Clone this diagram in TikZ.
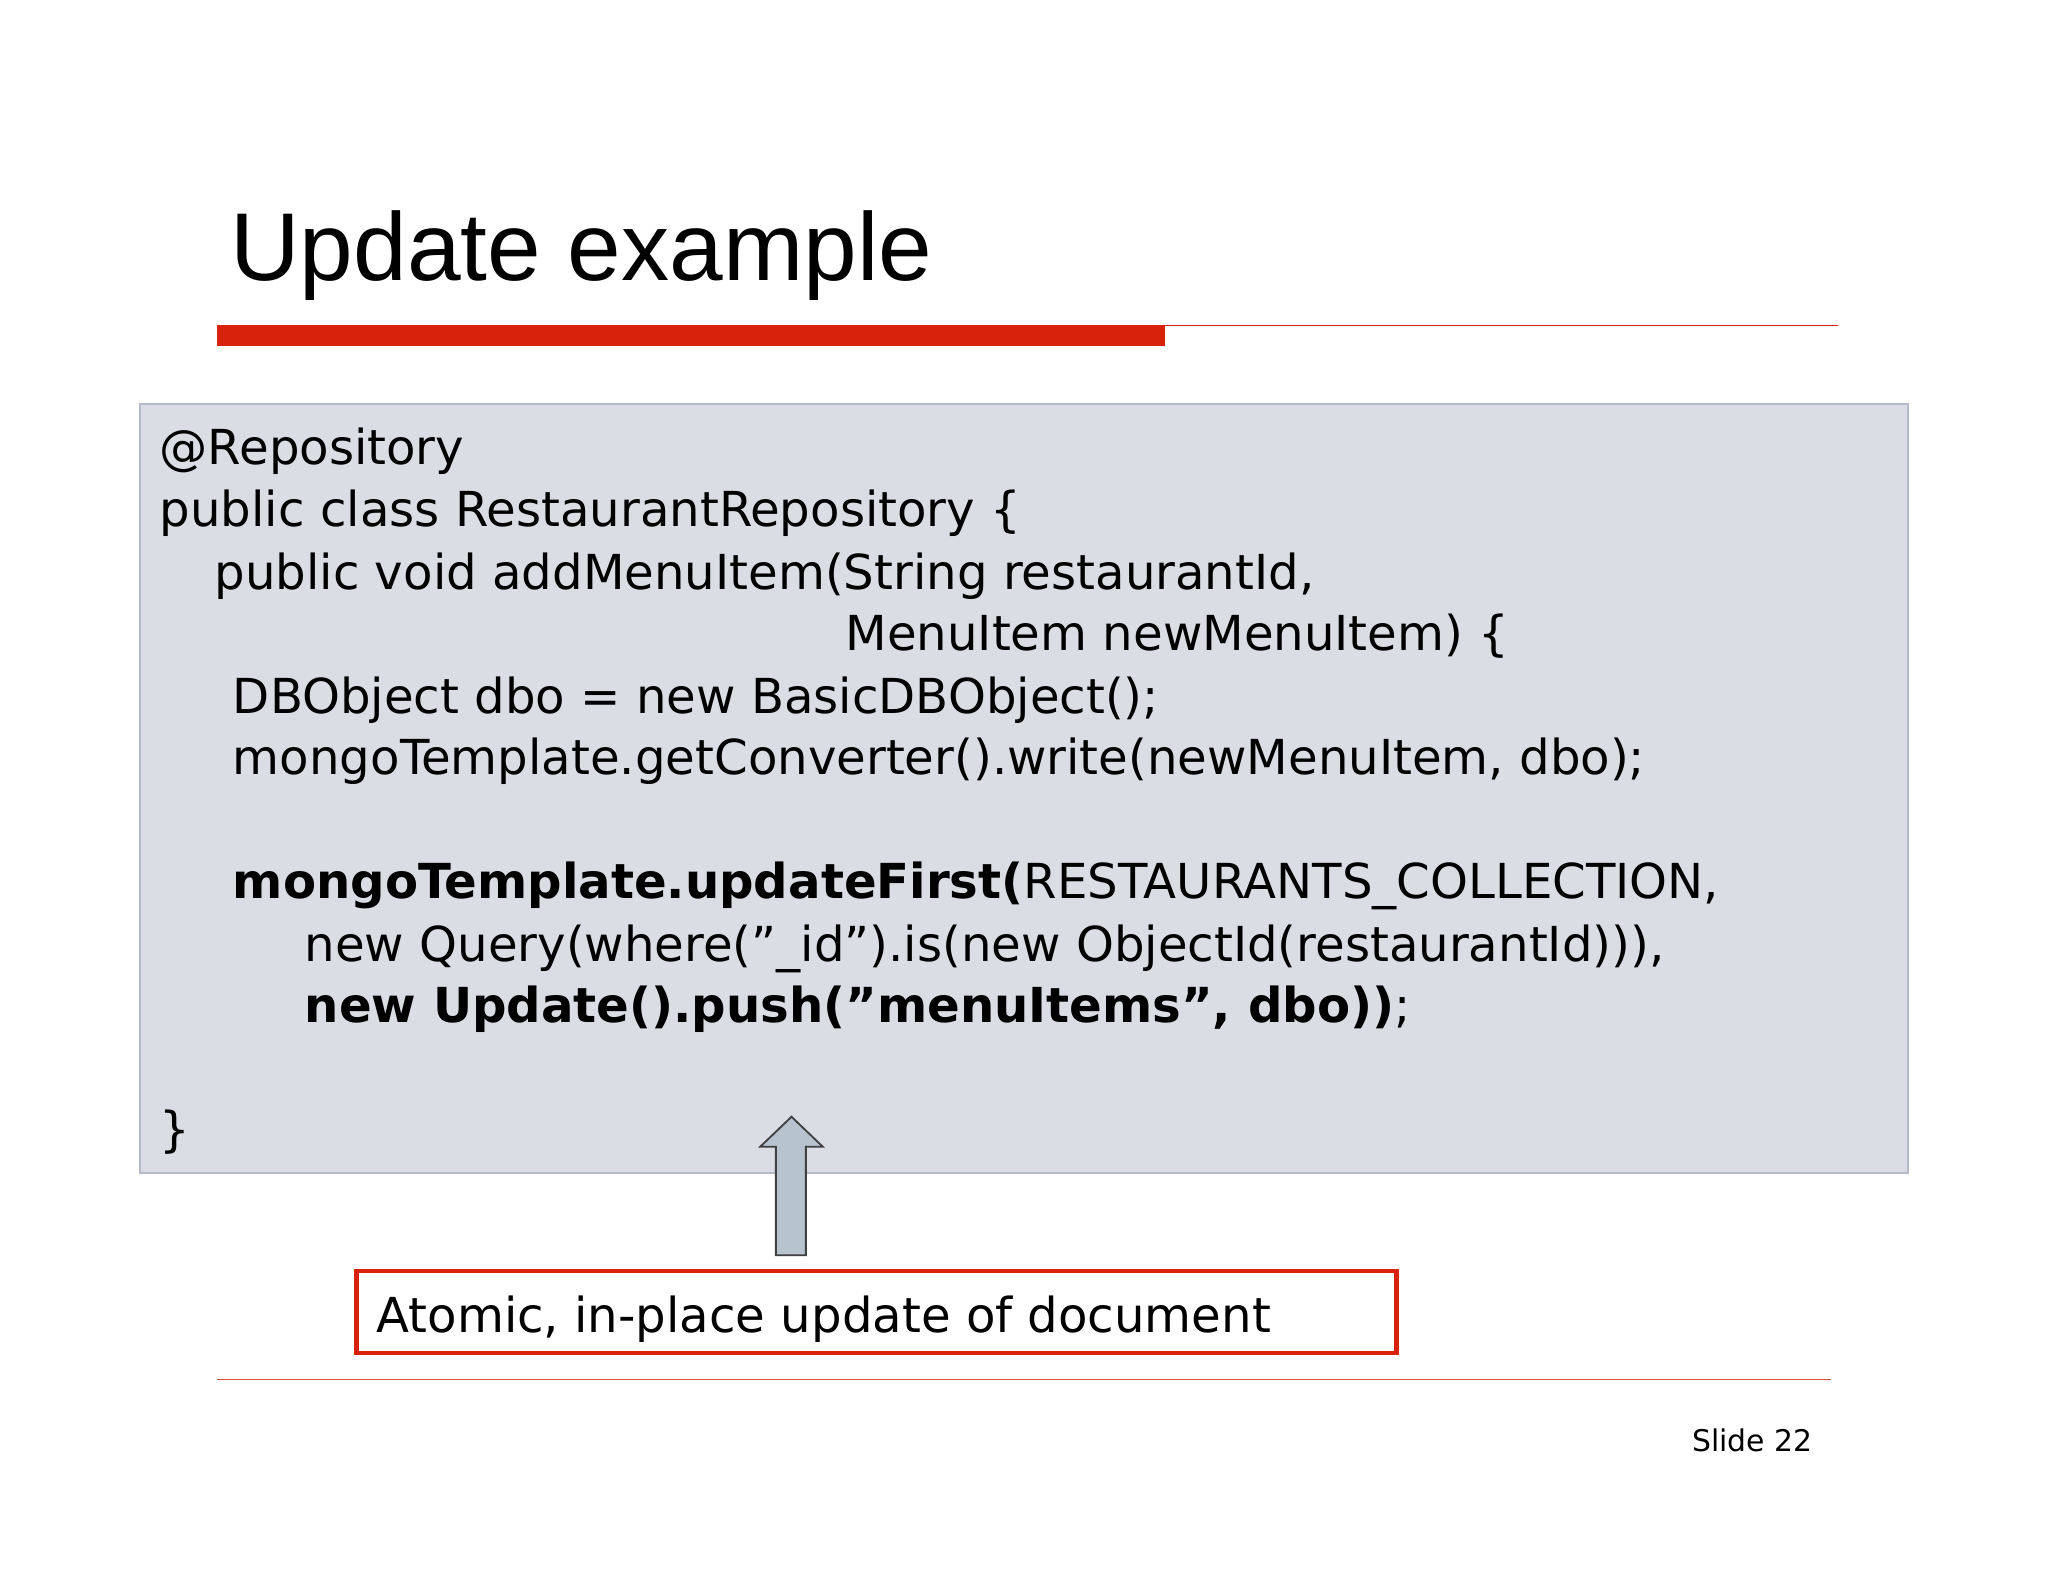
\documentclass[tikz,border=0pt]{standalone}
\usepackage{fontspec}
\setmainfont{DejaVu Sans}
\newfontfamily\titlefont{Liberation Sans}
\definecolor{slidered}{HTML}{D8220C}
\definecolor{codebg}{HTML}{DADDE4}
\definecolor{codeborder}{HTML}{B4BBC6}
\definecolor{arrowfill}{HTML}{B7C3CF}
\tikzset{codeline/.style={anchor=base west,inner sep=0pt,font=\fontsize{21}{25}\selectfont}}
\begin{document}
\begin{tikzpicture}[x=0.02cm,y=-0.02cm]
\useasboundingbox (0,0) rectangle (1568,1211);
\node[anchor=base west,inner sep=0pt,font=\titlefont\fontsize{42}{48}\selectfont] (title) at (176,215) {Update example};
\fill[slidered] (166,249) rectangle (892,265);
\draw[slidered,line width=0.6pt] (892,249) -- (1407,249);
\draw[codeborder,fill=codebg,line width=0.8pt] (107,309) rectangle (1461,898);
\node[codeline] (l1) at (122,356) {@Repository};
\node[codeline] (l2) at (122,403) {public class RestaurantRepository \{};
\node[codeline] (l3) at (164,451) {public void addMenuItem(String restaurantId,};
\node[codeline] (l4) at (647,498) {MenuItem newMenuItem) \{};
\node[codeline] (l5) at (178,546) {DBObject dbo = new BasicDBObject();};
\node[codeline] (l6) at (178,593) {mongoTemplate.getConverter().write(newMenuItem, dbo);};
\node[codeline] (l7) at (178,688) {\textbf{mongoTemplate.updateFirst(}RESTAURANTS\_COLLECTION,};
\node[codeline] (l8) at (233,736) {new Query(where("\_id").is(new ObjectId(restaurantId))),};
\node[codeline] (l9) at (233,783) {\textbf{new Update().push("menuItems", dbo))};};
\node[codeline] (l10) at (122,878) {\}};
\draw[black!75,fill=arrowfill,line width=0.8pt] (594,961) -- (594,878) -- (582,878) -- (606,855) -- (630,878) -- (617,878) -- (617,961) -- cycle;
\draw[slidered,line width=2pt] (273,973) rectangle (1069,1036);
\node[codeline] (note) at (288,1020) {Atomic, in-place update of document};
\draw[slidered!80,line width=0.5pt] (166,1056) -- (1402,1056);
\node[anchor=base east,inner sep=0pt,font=\fontsize{13}{15}\selectfont] (slide) at (1388,1111) {Slide 22};
\end{tikzpicture}
\end{document}
